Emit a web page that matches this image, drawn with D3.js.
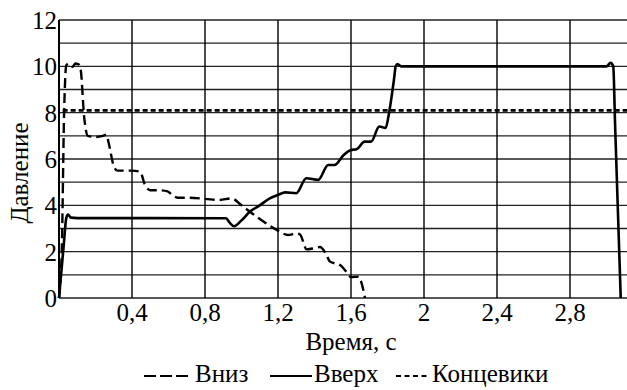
<!DOCTYPE html>
<meta charset="utf-8">
<style>
  body { margin: 0; background: #fff; }
</style>
<body>
<script src="https://d3js.org/d3.v7.min.js"></script>
<script>
// Вниз (dashed)
var downT = [0, 0.015, 0.028, 0.04, 0.055, 0.075, 0.09, 0.105, 0.118, 0.138, 0.158, 0.2, 0.24, 0.26, 0.272, 0.3, 0.32, 0.4, 0.445, 0.47, 0.5, 0.55, 0.595, 0.62, 0.65, 0.7, 0.8, 0.88, 0.945, 1.0, 1.05, 1.12, 1.195, 1.255, 1.3, 1.32, 1.357, 1.4, 1.43, 1.46, 1.485, 1.54, 1.58, 1.6, 1.64, 1.677];
var downV = [0, 2, 8, 10.05, 10.12, 9.98, 10.12, 10.1, 9.9, 7.8, 7.0, 6.95, 7.0, 7.05, 6.7, 5.7, 5.5, 5.5, 5.45, 4.9, 4.65, 4.65, 4.6, 4.45, 4.33, 4.33, 4.28, 4.23, 4.3, 4.0, 3.7, 3.3, 2.93, 2.72, 2.78, 2.75, 2.1, 2.15, 2.2, 1.95, 1.57, 1.42, 1.08, 0.9, 0.92, 0];

// Вверх (solid)
var upT = [0, 0.025, 0.04, 0.05, 0.065, 0.1, 0.5, 0.915, 0.935, 0.96, 1.0, 1.045, 1.1, 1.155, 1.2, 1.24, 1.3, 1.355, 1.42, 1.475, 1.51, 1.56, 1.6, 1.63, 1.675, 1.71, 1.755, 1.79, 1.805, 1.825, 1.835, 1.845, 1.855, 1.875, 1.9, 2.4, 3.0, 3.022, 3.037, 3.047, 3.078];
var upV = [0, 2.2, 3.45, 3.6, 3.47, 3.45, 3.45, 3.44, 3.25, 3.1, 3.35, 3.72, 4.0, 4.3, 4.45, 4.56, 4.52, 5.17, 5.1, 5.74, 5.74, 6.17, 6.39, 6.42, 6.75, 6.75, 7.4, 7.34, 7.83, 8.83, 9.4, 10.0, 10.1, 10.0, 10.0, 10.0, 10.0, 10.15, 10.0, 7.5, 0];

// Концевики (dotted)
var limitT = [0.02, 3.2];
var limitV = [8.1, 8.1];

var xTicks = [0.4, 0.8, 1.2, 1.6, 2, 2.4, 2.8];
var yTicks = [0, 2, 4, 6, 8, 10, 12];

var W = 627, H = 390;
var FONT = "Liberation Serif";
var FS = 25;
var svg = d3.select("body").append("svg").attr("width", W).attr("height", H)
  .attr("font-family", FONT);

var x = d3.scaleLinear().domain([0, 3.2]).range([59, 643]);
var y = d3.scaleLinear().domain([0, 12]).range([298, 20]);

// grid
svg.append("g").selectAll("line").data(d3.range(0, 13))
  .enter().append("line")
  .attr("x1", x(0)).attr("x2", x(3.2))
  .attr("y1", d => y(d)).attr("y2", d => y(d))
  .attr("stroke", "#222").attr("stroke-width", 1.4);

svg.append("g").selectAll("line").data(d3.range(1, 9).map(i => i * 0.4))
  .enter().append("line")
  .attr("x1", d => x(d)).attr("x2", d => x(d))
  .attr("y1", y(0)).attr("y2", y(12))
  .attr("stroke", "#000").attr("stroke-width", 1.4);

svg.append("line")
  .attr("x1", x(0)).attr("x2", x(0)).attr("y1", y(0)).attr("y2", y(12))
  .attr("stroke", "#000").attr("stroke-width", 2);

// tick labels
svg.append("g").selectAll("text").data(yTicks)
  .enter().append("text")
  .attr("x", 57).attr("y", d => y(d) + 9)
  .attr("text-anchor", "end").attr("font-size", FS)
  .attr("font-family", FONT)
  .text(d => d);

svg.append("g").selectAll("text").data(xTicks)
  .enter().append("text")
  .attr("x", d => x(d)).attr("y", 321)
  .attr("text-anchor", "middle").attr("font-size", FS)
  .attr("font-family", FONT)
  .text(d => String(d).replace(".", ","));

svg.append("text")
  .attr("x", x(1.6)).attr("y", 350)
  .attr("text-anchor", "middle").attr("font-size", FS)
  .attr("font-family", FONT)
  .text("Время, с");

svg.append("text")
  .attr("transform", "translate(28,173) rotate(-90)")
  .attr("text-anchor", "middle").attr("font-size", FS)
  .attr("font-family", FONT)
  .text("Давление");

// series
var line = d3.line().x(d => x(d[0])).y(d => y(d[1])).curve(d3.curveMonotoneX);
var zip = (a, b) => a.map((t, i) => [t, b[i]]);

svg.append("clipPath").attr("id", "c").append("rect")
  .attr("x", 0).attr("y", 0).attr("width", W).attr("height", y(0) + 1);

svg.append("path").datum(zip(limitT, limitV))
  .attr("d", line).attr("fill", "none").attr("stroke", "#000")
  .attr("stroke-width", 2.6).attr("stroke-dasharray", "5,3");

svg.append("path").datum(zip(downT, downV))
  .attr("clip-path", "url(#c)")
  .attr("d", line).attr("fill", "none").attr("stroke", "#000")
  .attr("stroke-width", 2.4).attr("stroke-dasharray", "10,5");

svg.append("path").datum(zip(upT, upV))
  .attr("clip-path", "url(#c)")
  .attr("d", line).attr("fill", "none").attr("stroke", "#000")
  .attr("stroke-width", 2.6);

// legend
var legend = [
  {name: "Вниз", x0: 144, x1: 188, tx: 195, dash: "12,4"},
  {name: "Вверх", x0: 270, x1: 312, tx: 314, dash: null},
  {name: "Концевики", x0: 396, x1: 429, tx: 432, dash: "5,3.5"}
];
var lg = svg.append("g").selectAll("g").data(legend).enter().append("g");
lg.append("line")
  .attr("x1", d => d.x0).attr("x2", d => d.x1).attr("y1", 376).attr("y2", 376)
  .attr("stroke", "#000").attr("stroke-width", 2.2)
  .attr("stroke-dasharray", d => d.dash);
lg.append("text")
  .attr("x", d => d.tx).attr("y", 382).attr("font-size", FS)
  .attr("font-family", FONT)
  .text(d => d.name);
</script>
</body>
